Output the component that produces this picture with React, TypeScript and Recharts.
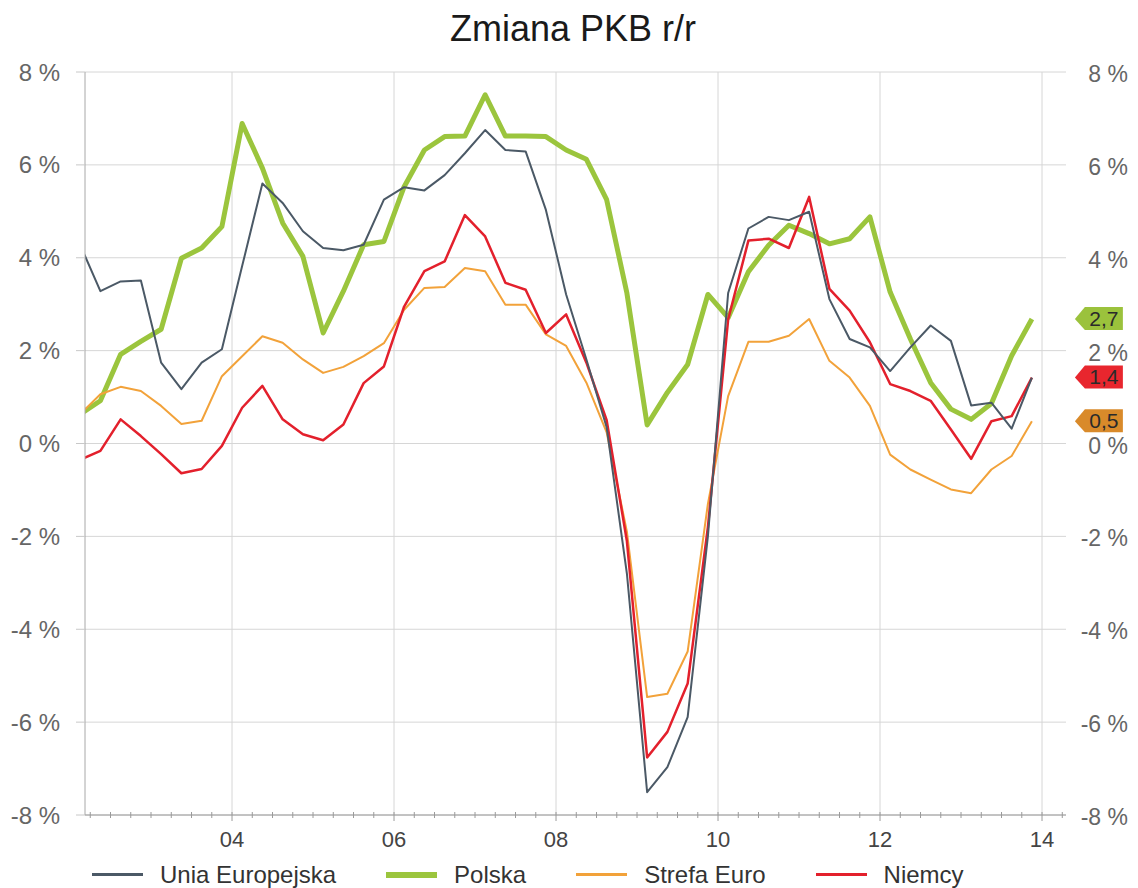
import { LineChart, Line, XAxis, YAxis, CartesianGrid, Legend, ReferenceDot } from 'recharts'

const years = [2002, 2003, 2004, 2005, 2006, 2007, 2008, 2009, 2010, 2011, 2012, 2013]
const quarters = years.flatMap(y => [1, 2, 3, 4].map(q => `${y} Q${q}`))

// zmiana PKB r/r, % (kwartalnie)
const uniaEuropejska = [4.28, 3.28, 3.49, 3.51, 1.74, 1.17, 1.74, 2.03, 3.82, 5.6, 5.18, 4.57,
    4.21, 4.16, 4.28, 5.25, 5.52, 5.45, 5.78, 6.25, 6.75, 6.32, 6.29, 5.03,
    3.21, 1.81, 0.35, -2.8, -7.51, -6.97, -5.89, -2.0, 3.24, 4.63, 4.88, 4.81,
    4.99, 3.11, 2.25, 2.07, 1.56, 2.07, 2.54, 2.21, 0.82, 0.88, 0.32, 1.42]
const polska = [0.63, 0.92, 1.92, 2.2, 2.46, 3.99, 4.21, 4.67, 6.89, 5.93, 4.75, 4.03,
    2.38, 3.28, 4.28, 4.35, 5.53, 6.32, 6.61, 6.62, 7.51, 6.62, 6.62, 6.61,
    6.32, 6.12, 5.25, 3.24, 0.4, 1.1, 1.7, 3.21, 2.71, 3.7, 4.27, 4.7,
    4.52, 4.3, 4.41, 4.88, 3.26, 2.25, 1.31, 0.74, 0.52, 0.86, 1.89, 2.68]
const strefaEuro = [0.63, 1.06, 1.22, 1.13, 0.81, 0.42, 0.49, 1.45, 1.88, 2.31, 2.17, 1.81,
    1.52, 1.65, 1.88, 2.16, 2.88, 3.35, 3.37, 3.78, 3.71, 2.99, 2.99, 2.35,
    2.1, 1.31, 0.24, -1.9, -5.46, -5.39, -4.48, -1.3, 1.02, 2.19, 2.19, 2.32,
    2.68, 1.78, 1.42, 0.81, -0.24, -0.56, -0.78, -0.99, -1.07, -0.56, -0.27, 0.48]
const niemcy = [-0.35, -0.16, 0.52, 0.16, -0.23, -0.64, -0.55, -0.05, 0.77, 1.24, 0.52, 0.2,
    0.07, 0.41, 1.3, 1.66, 2.95, 3.71, 3.92, 4.92, 4.46, 3.46, 3.31, 2.38,
    2.78, 1.74, 0.5, -2.1, -6.76, -6.21, -5.17, -1.8, 2.67, 4.37, 4.41, 4.21,
    5.31, 3.33, 2.86, 2.18, 1.28, 1.13, 0.92, 0.3, -0.33, 0.48, 0.59, 1.42]

const yTicks = [-8, -6, -4, -2, 0, 2, 4, 6, 8]
const yearTicks = [2004, 2006, 2008, 2010, 2012, 2014]

// punkt w srodku kwartalu
const toTime = (label: string) => {
    const [y, q] = label.split(' Q')
    return Number(y) + (Number(q) - 0.5) / 4
}

const chartData = quarters.map((q, i) => ({
    t: toTime(q),
    eu: uniaEuropejska[i],
    pl: polska[i],
    ez: strefaEuro[i],
    de: niemcy[i],
}))

const quarterTicks = Array.from({ length: 49 }, (_, i) => 2002.25 + i * 0.25)

const series = [
    { key: 'eu', name: 'Unia Europejska', color: '#4b5966', width: 2, axis: 'right' },
    { key: 'pl', name: 'Polska', color: '#9bc53d', width: 5, axis: 'left' },
    { key: 'ez', name: 'Strefa Euro', color: '#f2a23a', width: 2, axis: 'left' },
    { key: 'de', name: 'Niemcy', color: '#e3202c', width: 2.5, axis: 'left' },
]

const badges = [
    { key: 'pl', color: '#9bc23c', values: polska },
    { key: 'de', color: '#e8262e', values: niemcy },
    { key: 'ez', color: '#d98a2a', values: strefaEuro },
]

const lastT = chartData[chartData.length - 1].t

function XTick({ x, y, payload }: any) {
    const v = payload.value
    const r = Math.round(v)
    const isYear = Math.abs(v - r) < 1e-6 && r % 2 === 0
    return (
        <g>
            <line x1={x} x2={x} y1={y - 3} y2={y + (isYear ? 6 : 3)} stroke="#9a9a9a" />
            {isYear && (
                <text x={x} y={y + 32} textAnchor="middle" fontSize={22} fill="#444">
                    {String(r).slice(2)}
                </text>
            )}
        </g>
    )
}

function RightTick({ x, y, payload }: any) {
    return (
        <text x={x + 62} y={y + 2} dy="0.35em" textAnchor="end" fontSize={23} fill="#666">
            {`${payload.value} %`}
        </text>
    )
}

function Badge({ cx, cy, color, label }: any) {
    const pts = [
        [cx + 43, cy], [cx + 53, cy - 12], [cx + 91, cy - 12],
        [cx + 91, cy + 11], [cx + 53, cy + 11],
    ].map(p => p.join(',')).join(' ')
    return (
        <g>
            <polygon points={pts} fill={color} />
            <text x={cx + 72} y={cy} dy="0.33em" textAnchor="middle" fontSize={21} fill="#2a2a2a">{label}</text>
        </g>
    )
}

function LegendContent() {
    return (
        <div style={{ height: 33, display: 'flex', alignItems: 'center', paddingLeft: 92, paddingTop: 6, boxSizing: 'border-box' }}>
            {series.map(s => (
                <div key={s.key} style={{ display: 'flex', alignItems: 'center', marginRight: 50 }}>
                    <span style={{ display: 'inline-block', width: 51, height: s.width + 1, background: s.color, marginRight: 17 }} />
                    <span style={{ fontSize: 24, lineHeight: '24px', color: '#333', whiteSpace: 'nowrap' }}>{s.name}</span>
                </div>
            ))}
        </div>
    )
}

export default function App() {
    const drawOrder = [series[1], series[2], series[3], series[0]]
    return (
        <div style={{ position: 'absolute', left: 0, top: 0, width: 1138, height: 888, background: '#fff', fontFamily: '"Liberation Sans", Arial, sans-serif', overflow: 'hidden' }}>
            <div style={{ position: 'absolute', top: 11, left: 0, width: 1146, textAlign: 'center', fontSize: 36, lineHeight: '36px', color: '#1a1a1a' }}>
                Zmiana PKB r/r
            </div>
            <LineChart width={1138} height={888} data={chartData} margin={{ top: 72, right: 0, left: 0, bottom: 0 }}>
                <CartesianGrid stroke="#d6d6d6" verticalValues={yearTicks} yAxisId="left" />
                <XAxis
                    dataKey="t"
                    type="number"
                    domain={[2002.185, 2014.296]}
                    allowDataOverflow
                    ticks={quarterTicks}
                    interval={0}
                    tickSize={0}
                    tickMargin={0}
                    tickLine={false}
                    tick={<XTick />}
                    height={40}
                    axisLine={{ stroke: '#9a9a9a' }}
                />
                <YAxis
                    yAxisId="left"
                    domain={[-8, 8]}
                    ticks={yTicks}
                    interval={0}
                    width={85}
                    tickSize={9}
                    tickMargin={16}
                    tickFormatter={(v: number) => `${v} %`}
                    tick={{ fontSize: 24, fill: '#666' }}
                    axisLine={{ stroke: '#a8a8a8' }}
                    tickLine={{ stroke: '#c8c8c8' }}
                />
                <YAxis
                    yAxisId="right"
                    orientation="right"
                    domain={[-8, 8]}
                    ticks={yTicks}
                    interval={0}
                    width={72}
                    tickSize={0}
                    tickMargin={0}
                    axisLine={false}
                    tickLine={false}
                    tick={<RightTick />}
                />
                <Legend verticalAlign="bottom" content={() => <LegendContent />} wrapperStyle={{ left: 0, width: 1138 }} />
                {drawOrder.map(s => (
                    <Line
                        key={s.key}
                        yAxisId={s.axis}
                        type="linear"
                        dataKey={s.key}
                        name={s.name}
                        stroke={s.color}
                        strokeWidth={s.width}
                        strokeLinejoin="round"
                        dot={false}
                        isAnimationActive={false}
                    />
                ))}
                {badges.map(b => {
                    const v = b.values[b.values.length - 1]
                    return (
                        <ReferenceDot
                            key={b.key}
                            yAxisId="left"
                            x={lastT}
                            y={v}
                            ifOverflow="visible"
                            shape={(p: any) => <Badge cx={p.cx} cy={p.cy} color={b.color} label={v.toFixed(1).replace('.', ',')} />}
                        />
                    )
                })}
            </LineChart>
        </div>
    )
}
